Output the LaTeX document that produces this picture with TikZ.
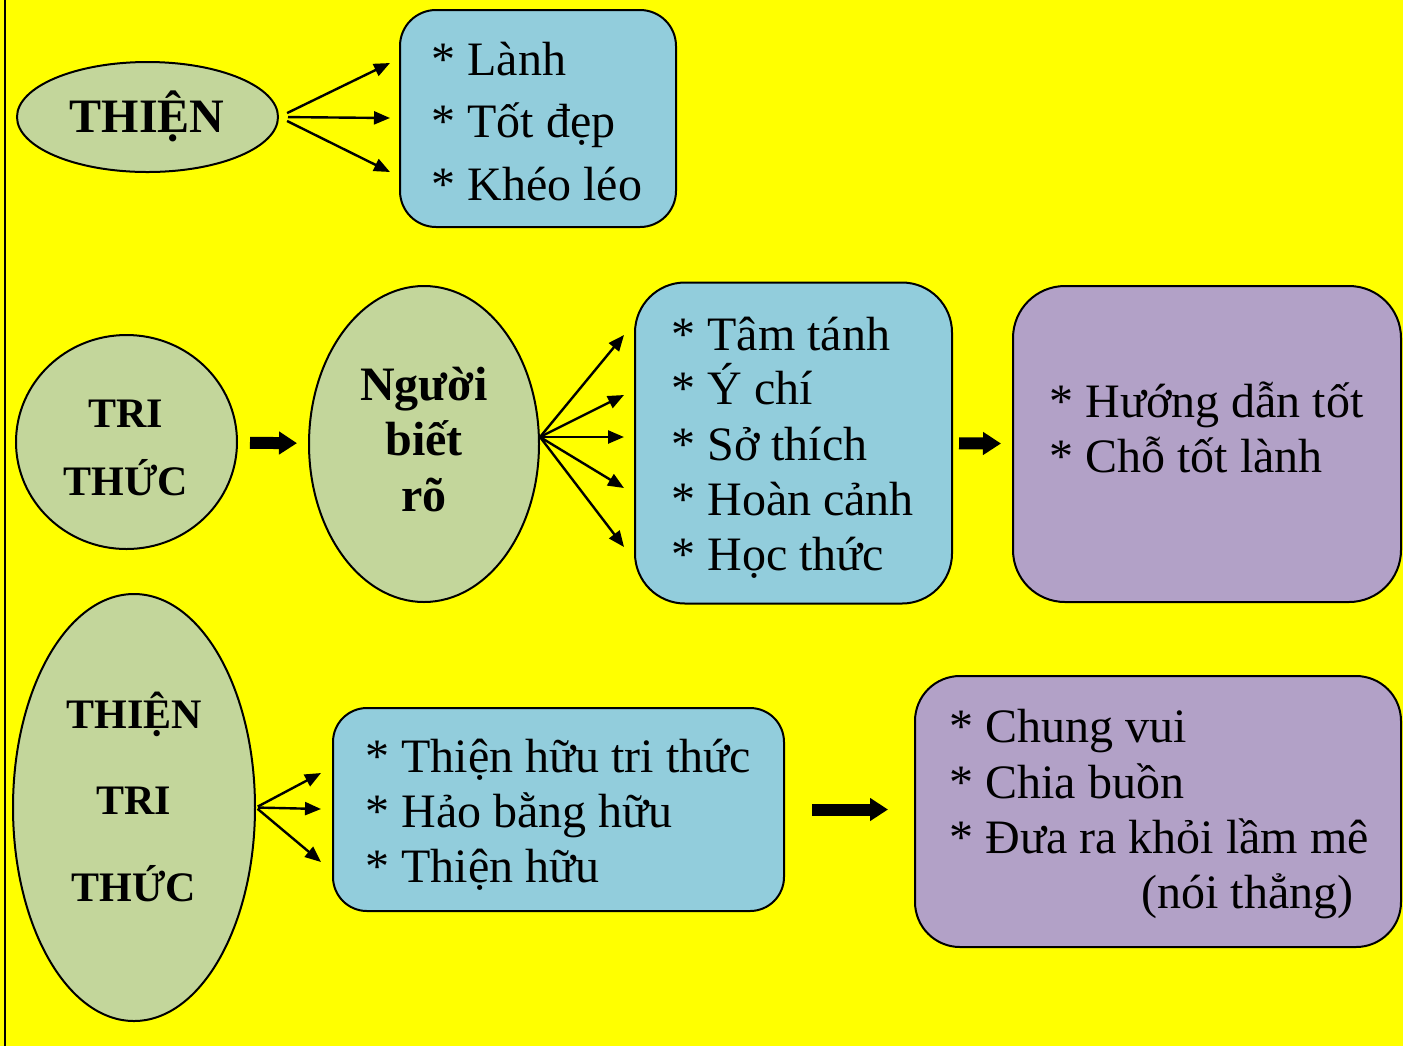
\documentclass[tikz,border=0pt]{standalone}
\usepackage{fontspec}
\setmainfont{Liberation Serif}
\usetikzlibrary{shapes.geometric,arrows.meta}

\definecolor{myyellow}{RGB}{255,255,0}
\definecolor{mygreen}{RGB}{195,214,155}
\definecolor{myblue}{RGB}{146,205,220}
\definecolor{mypurple}{RGB}{178,161,199}

\tikzset{
	oval/.style={ellipse, draw=black, line width=1pt, fill=mygreen, inner sep=0pt},
	bluebox/.style={rectangle, draw=black, line width=1pt, fill=myblue, inner sep=0pt},
	purplebox/.style={rectangle, draw=black, line width=1pt, fill=mypurple, inner sep=0pt},
	item/.style={anchor=base west, inner sep=0pt, font=\fontsize{24}{28}\selectfont},
	title/.style={anchor=base, inner sep=0pt, font=\fontsize{24}{28}\selectfont\bfseries},
	smalltitle/.style={anchor=base, inner sep=0pt, font=\fontsize{21}{25}\selectfont\bfseries},
	fan/.style={-{Triangle[length=8pt,width=6.5pt]}, line width=1.2pt},
	fatarrow/.style={-{Triangle[length=9pt,width=11pt]}, line width=6pt}
}

\begin{document}
\begin{tikzpicture}[x=0.5pt, y=-0.5pt]
	
	\useasboundingbox (0,0) rectangle (1403,1046);
	\fill[myyellow] (0,0) rectangle (1403,1046);
	\draw[line width=1pt] (5,0) -- (5,1046);
	
	% THIEN
	\node[oval, minimum width=130.5pt, minimum height=55pt] (thien) at (147.5,117) {};
	\node[title] (thienT) at (147,132) {THIỆN};
	
	\node[bluebox, rounded corners=18pt, minimum width=138pt, minimum height=108.5pt] (tot) at (538,118.5) {};
	\node[item] (tot1) at (431,75) {* Lành};
	\node[item] (tot2) at (431,137) {* Tốt đẹp};
	\node[item] (tot3) at (431,200) {* Khéo léo};
	
	\coordinate (t1) at (390,63);
	\coordinate (t2) at (390,118);
	\coordinate (t3) at (390,172);
	\draw[fan, shorten <=4.5pt] (thien.east) -- (t1);
	\draw[fan, shorten <=4.5pt] (thien.east) -- (t2);
	\draw[fan, shorten <=4.5pt] (thien.east) -- (t3);
	
	% TRI THUC
	\node[oval, minimum width=110.5pt, minimum height=107pt] (trithuc) at (126.5,442) {};
	\node[smalltitle] (trithuc1) at (126,427) {TRI};
	\node[smalltitle] (trithuc2) at (126,495) {THỨC};
	
	\node[oval, minimum width=115pt, minimum height=158pt] (nguoi) at (424,444) {};
	\node[title] (nguoi1) at (424,400) {Người};
	\node[title] (nguoi2) at (424,455) {biết};
	\node[title] (nguoi3) at (424,511) {rõ};
	
	\draw[fatarrow, shorten <=6pt, shorten >=5.5pt] (trithuc) -- (nguoi);
	
	\node[bluebox, rounded corners=25pt, minimum width=158.5pt, minimum height=160.5pt] (tinh) at (793.5,443) {};
	\node[item] (tinh1) at (671,350) {* Tâm tánh};
	\node[item] (tinh2) at (671,404) {* Ý chí};
	\node[item] (tinh3) at (671,460) {* Sở thích};
	\node[item] (tinh4) at (671,515) {* Hoàn cảnh};
	\node[item] (tinh5) at (671,570) {* Học thức};
	
	\coordinate (n0) at ([yshift=3.5pt]nguoi.east);
	\coordinate (n1) at (624,335);
	\coordinate (n2) at (624,395);
	\coordinate (n3) at (624,437);
	\coordinate (n4) at (624,488);
	\coordinate (n5) at (624,547);
	\draw[fan] (n0) -- (n1);
	\draw[fan] (n0) -- (n2);
	\draw[fan] (n0) -- (n3);
	\draw[fan] (n0) -- (n4);
	\draw[fan] (n0) -- (n5);
	
	\node[purplebox, rounded corners=26pt, minimum width=194pt, minimum height=158pt] (huong) at (1207,444) {};
	\node[item] (huong1) at (1049,417) {* Hướng dẫn tốt};
	\node[item] (huong2) at (1049,472) {* Chỗ tốt lành};
	
	\draw[fatarrow, shorten <=3pt, shorten >=5.5pt] (tinh) -- (huong);
	
	% THIEN TRI THUC
	\node[oval, minimum width=121pt, minimum height=213.5pt] (ttt) at (134,807.5) {};
	\node[smalltitle] (ttt1) at (134,728) {THIỆN};
	\node[smalltitle] (ttt2) at (134,814) {TRI};
	\node[smalltitle] (ttt3) at (134,901) {THỨC};
	
	\node[bluebox, rounded corners=17pt, minimum width=225.5pt, minimum height=101.5pt] (ban) at (558.5,809.5) {};
	\node[item] (ban1) at (365,772) {* Thiện hữu tri thức};
	\node[item] (ban2) at (365,827) {* Hảo bằng hữu};
	\node[item] (ban3) at (365,882) {* Thiện hữu};
	
	\coordinate (b1) at (321,773);
	\coordinate (b2) at (321,809);
	\coordinate (b3) at (321,862);
	\draw[fan, shorten <=1pt] (ttt.east) -- (b1);
	\draw[fan, shorten <=1pt] (ttt.east) -- (b2);
	\draw[fan, shorten <=1pt] (ttt.east) -- (b3);
	
	\node[purplebox, rounded corners=22.5pt, minimum width=243pt, minimum height=135.5pt] (vui) at (1158,811.5) {};
	\node[item] (vui1) at (949,742) {* Chung vui};
	\node[item] (vui2) at (949,798) {* Chia buồn};
	\node[item] (vui3) at (949,853) {* Đưa ra khỏi lầm mê};
	\node[item] (vui4) at (1141,908) {(nói thẳng)};
	
	\draw[fatarrow, shorten <=13.5pt, shorten >=13pt] (ban.east) -- (ban.east -| vui.west);
	
\end{tikzpicture}
\end{document}
